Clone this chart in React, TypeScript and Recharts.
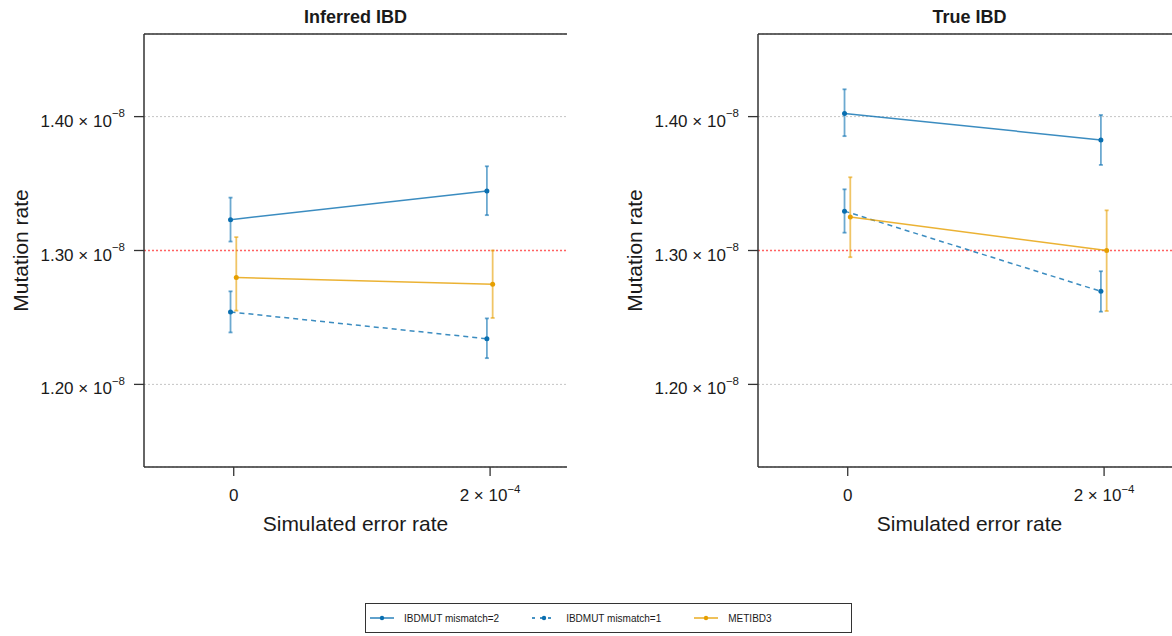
import React from 'react';
import {
  ComposedChart,
  Line,
  XAxis,
  YAxis,
  CartesianGrid,
  ReferenceLine,
  ErrorBar,
  Legend,
} from 'recharts';

// simulated error rates (x categories)
const errorRates = [0, 2e-4];
const xTicks = [0, 2e-4];
const yTicks = [1.2e-8, 1.3e-8, 1.4e-8];
const trueRate = 1.3e-8;

// Inferred IBD panel
const inferredMis2 = [1.323e-8, 1.3444e-8];
const inferredMis2Lo = [1.3067e-8, 1.3264e-8];
const inferredMis2Hi = [1.3395e-8, 1.3629e-8];
const inferredMis1 = [1.2541e-8, 1.2341e-8];
const inferredMis1Lo = [1.2388e-8, 1.2196e-8];
const inferredMis1Hi = [1.2695e-8, 1.2493e-8];
const inferredMet = [1.2798e-8, 1.2748e-8];
const inferredMetLo = [1.2551e-8, 1.2496e-8];
const inferredMetHi = [1.31e-8, 1.3e-8];

// True IBD panel
const trueMis2 = [1.4024e-8, 1.3826e-8];
const trueMis2Lo = [1.3854e-8, 1.3639e-8];
const trueMis2Hi = [1.4204e-8, 1.4012e-8];
const trueMis1 = [1.3294e-8, 1.2695e-8];
const trueMis1Lo = [1.3133e-8, 1.2543e-8];
const trueMis1Hi = [1.3457e-8, 1.2845e-8];
const trueMet = [1.325e-8, 1.3e-8];
const trueMetLo = [1.295e-8, 1.2548e-8];
const trueMetHi = [1.3547e-8, 1.33e-8];

const BLUE = '#0a6fb0';
const ORANGE = '#E69F00';
const FONT = '"Liberation Sans", Arial, Helvetica, sans-serif';
const INK = '#1a1a1a';
const FRAME = '#333';

const series = [
  { name: 'IBDMUT mismatch=2', color: BLUE, dash: undefined, dodge: -0.025e-4 },
  { name: 'IBDMUT mismatch=1', color: BLUE, dash: '5 4', dodge: -0.025e-4 },
  { name: 'METIBD3', color: ORANGE, dash: undefined, dodge: 0.02e-4 },
];

const xDomain = [-0.7e-4, 2.6e-4];
const yDomain = [1.1383e-8, 1.4617e-8];

function alpha(hex: string, a: number) {
  const n = parseInt(hex.slice(1), 16);
  return `rgba(${(n >> 16) & 255},${(n >> 8) & 255},${n & 255},${a})`;
}

function table(ys: number[], lo: number[], hi: number[], dodge: number) {
  return errorRates.map((r, i) => ({
    x: r + dodge,
    y: ys[i],
    err: [ys[i] - lo[i], hi[i] - ys[i]],
  }));
}

const panels = [
  {
    title: 'Inferred IBD',
    data: [
      table(inferredMis2, inferredMis2Lo, inferredMis2Hi, series[0].dodge),
      table(inferredMis1, inferredMis1Lo, inferredMis1Hi, series[1].dodge),
      table(inferredMet, inferredMetLo, inferredMetHi, series[2].dodge),
    ],
  },
  {
    title: 'True IBD',
    data: [
      table(trueMis2, trueMis2Lo, trueMis2Hi, series[0].dodge),
      table(trueMis1, trueMis1Lo, trueMis1Hi, series[1].dodge),
      table(trueMet, trueMetLo, trueMetHi, series[2].dodge),
    ],
  },
];

function sci(v: number, digits: number) {
  if (v === 0) return { mant: '0', exp: '' };
  const [m, e] = v.toExponential(digits).split('e');
  return { mant: m, exp: String(Number(e)).replace('-', '\u2212') };
}

function YTick(props: any) {
  const { x, y, payload } = props;
  const { mant, exp } = sci(payload.value, 2);
  return (
    <text x={x} y={y + 10} textAnchor="end" fontFamily={FONT} fontSize={17} fill={INK}>
      <tspan>{mant} × 10</tspan>
      <tspan dy={-9.5} fontSize={11.5}>{exp}</tspan>
    </text>
  );
}

function XTick(props: any) {
  const { x, y, payload } = props;
  const { mant, exp } = sci(payload.value, 0);
  return (
    <text x={x} y={y + 21} textAnchor="middle" fontFamily={FONT} fontSize={17} fill={INK}>
      {exp ? (
        <>
          <tspan>{mant} × 10</tspan>
          <tspan dy={-8.5} fontSize={11.5}>{exp}</tspan>
        </>
      ) : (
        mant
      )}
    </text>
  );
}

function LegendBox() {
  return (
    <div
      style={{
        boxSizing: 'border-box',
        width: 487,
        height: 30,
        border: `1px solid ${FRAME}`,
        background: '#fff',
        display: 'flex',
        alignItems: 'center',
        paddingLeft: 4,
        fontFamily: FONT,
        fontSize: 10,
        color: INK,
      }}
    >
      {series.map((s) => (
        <div key={s.name} style={{ display: 'flex', alignItems: 'center', marginRight: 33 }}>
          <svg width={24} height={10}>
            <line x1={0} x2={24} y1={5} y2={5} stroke={s.color} strokeWidth={1.3} strokeDasharray={s.dash ? '3 5' : undefined} />
            <circle cx={12} cy={5} r={2.2} fill={s.color} />
          </svg>
          <span style={{ marginLeft: 10 }}>{s.name}</span>
        </div>
      ))}
    </div>
  );
}

function Panel({ title, data, withLegend }: { title: string; data: any[][]; withLegend: boolean }) {
  return (
    <ComposedChart width={600} height={636} margin={{ top: 0, right: 33, bottom: 99, left: 44 }}>
      <CartesianGrid vertical={false} stroke="#c4c4c4" strokeDasharray="2 2" />
      <XAxis
        type="number"
        dataKey="x"
        domain={xDomain}
        ticks={xTicks}
        interval={0}
        allowDataOverflow
        height={70}
        tickSize={9}
        tickMargin={4}
        tick={<XTick />}
        axisLine={{ stroke: FRAME, strokeWidth: 1.5 }}
        tickLine={{ stroke: FRAME, strokeWidth: 1.3 }}
        label={{
          content: (p: any) => (
            <text
              x={p.viewBox.x + p.viewBox.width / 2}
              y={531}
              textAnchor="middle"
              fontFamily={FONT}
              fontSize={21}
              fill={INK}
            >
              Simulated error rate
            </text>
          ),
        }}
      />
      <XAxis
        xAxisId="top"
        orientation="top"
        type="number"
        dataKey="x"
        domain={xDomain}
        allowDataOverflow
        height={34}
        tick={false}
        tickLine={false}
        axisLine={{ stroke: FRAME, strokeWidth: 1.5 }}
        label={{
          content: (p: any) => (
            <text
              x={p.viewBox.x + p.viewBox.width / 2}
              y={22.5}
              textAnchor="middle"
              fontFamily={FONT}
              fontSize={18}
              fontWeight="bold"
              fill={INK}
            >
              {title}
            </text>
          ),
        }}
      />
      <YAxis
        type="number"
        domain={yDomain}
        ticks={yTicks}
        interval={0}
        allowDataOverflow
        width={100}
        tickSize={10}
        tickMargin={9}
        tick={<YTick />}
        axisLine={{ stroke: FRAME, strokeWidth: 1.5 }}
        tickLine={{ stroke: FRAME, strokeWidth: 1.3 }}
        label={{
          content: (p: any) => {
            const cx = p.viewBox.x + p.viewBox.width - 124;
            const cy = p.viewBox.y + p.viewBox.height / 2;
            return (
              <text
                x={cx}
                y={cy}
                transform={`rotate(-90 ${cx} ${cy})`}
                textAnchor="middle"
                dominantBaseline="central"
                fontFamily={FONT}
                fontSize={21}
                fill={INK}
              >
                Mutation rate
              </text>
            );
          },
        }}
      />
      <YAxis
        yAxisId="right"
        orientation="right"
        type="number"
        domain={yDomain}
        allowDataOverflow
        width={0}
        tick={false}
        tickLine={false}
        axisLine={{ stroke: FRAME, strokeWidth: 1.5 }}
      />
      <ReferenceLine y={trueRate} stroke="#ff6161" strokeWidth={1.6} strokeDasharray="2 2" />
      {series.map((s, i) => (
        <Line
          key={s.name}
          name={s.name}
          data={data[i]}
          dataKey="y"
          stroke={alpha(s.color, 0.8)}
          strokeWidth={1.5}
          strokeDasharray={s.dash}
          dot={{ r: 2.5, fill: s.color, stroke: 'none' }}
          activeDot={false}
          isAnimationActive={false}
        >
          <ErrorBar
            dataKey="err"
            direction="y"
            width={2}
            stroke={alpha(s.color, 0.6)}
            strokeWidth={1.8}
            isAnimationActive={false}
          />
        </Line>
      ))}
      {withLegend && (
        <Legend
          verticalAlign="middle"
          align="center"
          layout="horizontal"
          wrapperStyle={{ left: 365, top: 603, width: 487, height: 30 }}
          content={() => <LegendBox />}
        />
      )}
    </ComposedChart>
  );
}

export default function App() {
  return (
    <div
      style={{
        position: 'absolute',
        left: 0,
        top: 0,
        width: 1172,
        height: 636,
        overflow: 'hidden',
        background: '#fff',
      }}
    >
      <div style={{ position: 'absolute', left: 614, top: 0 }}>
        <Panel title={panels[1].title} data={panels[1].data} withLegend={false} />
      </div>
      <div style={{ position: 'absolute', left: 0, top: 0 }}>
        <Panel title={panels[0].title} data={panels[0].data} withLegend={true} />
      </div>
    </div>
  );
}
